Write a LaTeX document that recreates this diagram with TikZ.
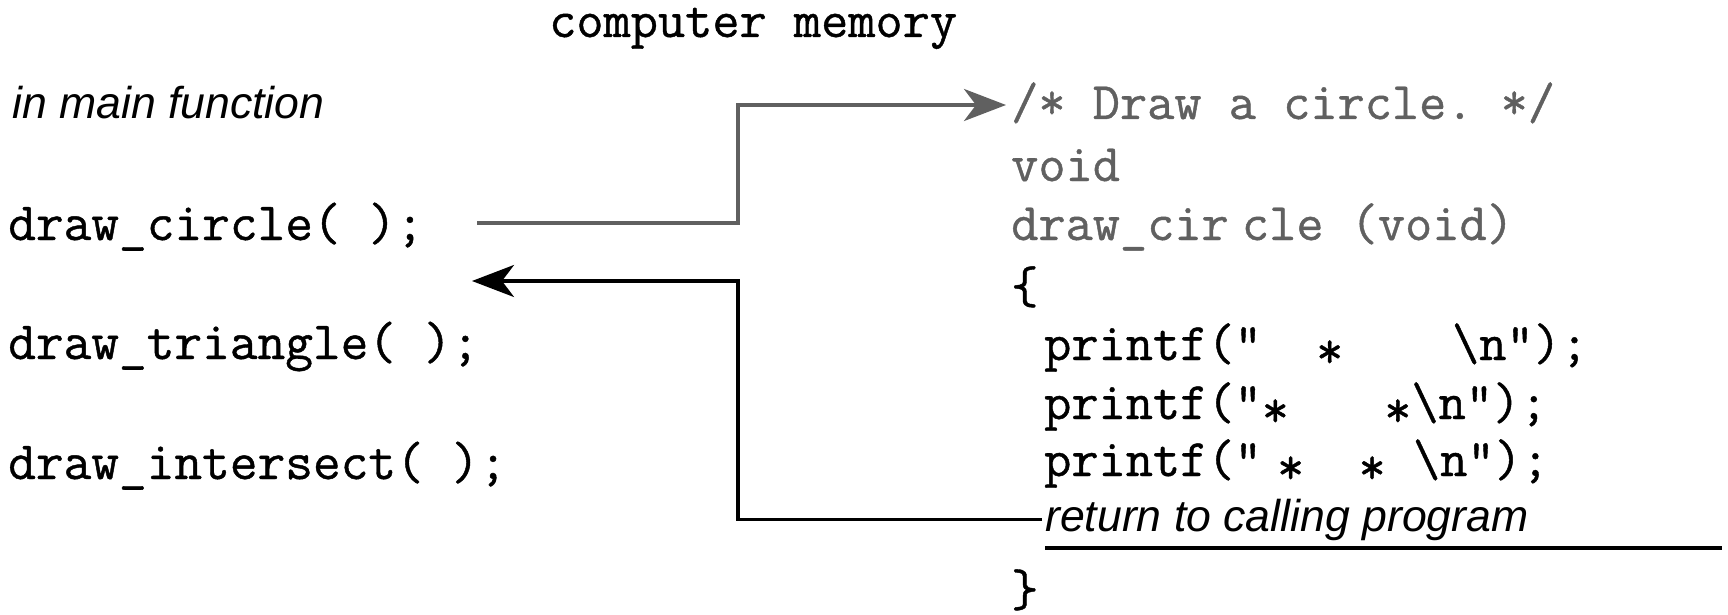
\documentclass[tikz,border=0pt]{standalone}
\usepackage{fontspec}
\setmainfont{Liberation Sans}
\newfontfamily\codefont[FakeBold=0.8]{Latin Modern Mono}
\newfontfamily\notefont{Liberation Sans}
\usetikzlibrary{arrows.meta}
\definecolor{codegray}{RGB}{96,96,96}
\newcommand\cstar{\raisebox{-0.15em}{*}}
\begin{document}
\begin{tikzpicture}[x=1pt,y=-1pt,
  code/.style={font=\codefont\fontsize{52.8}{60}\selectfont, inner sep=0pt, anchor=base west},
  leftcode/.style={font=\codefont\fontsize{53.8}{60}\selectfont, inner sep=0pt, anchor=base west},
  graycode/.style={code, text=codegray},
  note/.style={font=\notefont\itshape\fontsize{44.6}{54}\selectfont, inner sep=0pt, anchor=base west},
  callarrow/.style={draw=codegray, line width=4pt, -{Stealth[length=42pt,width=32pt,inset=12pt]}},
  retarrow/.style={draw=black, line width=3.5pt, -{Stealth[length=42pt,width=32pt,inset=12pt]}},
  rulestyle/.style={draw=black, line width=3.5pt}]
\useasboundingbox (0,0) rectangle (1728,615);

% headings
\node[code] (title) at (549,37) {computer memory};
\node[note] (mainlbl) at (12,119) {in main function};

% calls in main
\node[leftcode] (c1) at (8,240) {draw\_circle(~);};
\node[leftcode] (c2) at (8,359) {draw\_triangle(~);};
\node[leftcode] (c3) at (8,479) {draw\_intersect(~);};

% function in memory
\node[graycode] (cm) at (1011,119) {/*~Draw a circle.~*/};
\node[graycode] (vd) at (1011,181) {void};
\node[graycode] (hd) at (1011,240) {draw\_cir\kern0.25em cle~(void)};
\node[code] (ob) at (1011,303) {\{};
\node[code] (p1) at (1044,360) {printf("~~\cstar~~~~\textbackslash n");};
\node[code] (p2) at (1044,419) {printf("\cstar~~~\kern0.26em\cstar\textbackslash n");};
\node[code] (p3) at (1044,476) {printf("\kern0.29em\cstar~~\cstar~\textbackslash n");};
\node[note] (ret) at (1045,531) {return to calling program};
\node[code] (cb) at (1011,606) {\}};

% rule under return
\coordinate (ulL) at (1045,548);
\coordinate (ulR) at (1722,548);
\draw[rulestyle] (ulL) -- (ulR);

% call arrow
\coordinate (gstart) at (477,223);
\coordinate (knee) at (738,281);
\coordinate (ctip) at (1006,105);
\draw[callarrow] (gstart) -| (knee |- ctip) -- (ctip);

% return arrow
\coordinate (rtip) at (472,281);
\draw[retarrow] ([xshift=-3pt]ret.west) -| (knee) -- (rtip);
\end{tikzpicture}
\end{document}
